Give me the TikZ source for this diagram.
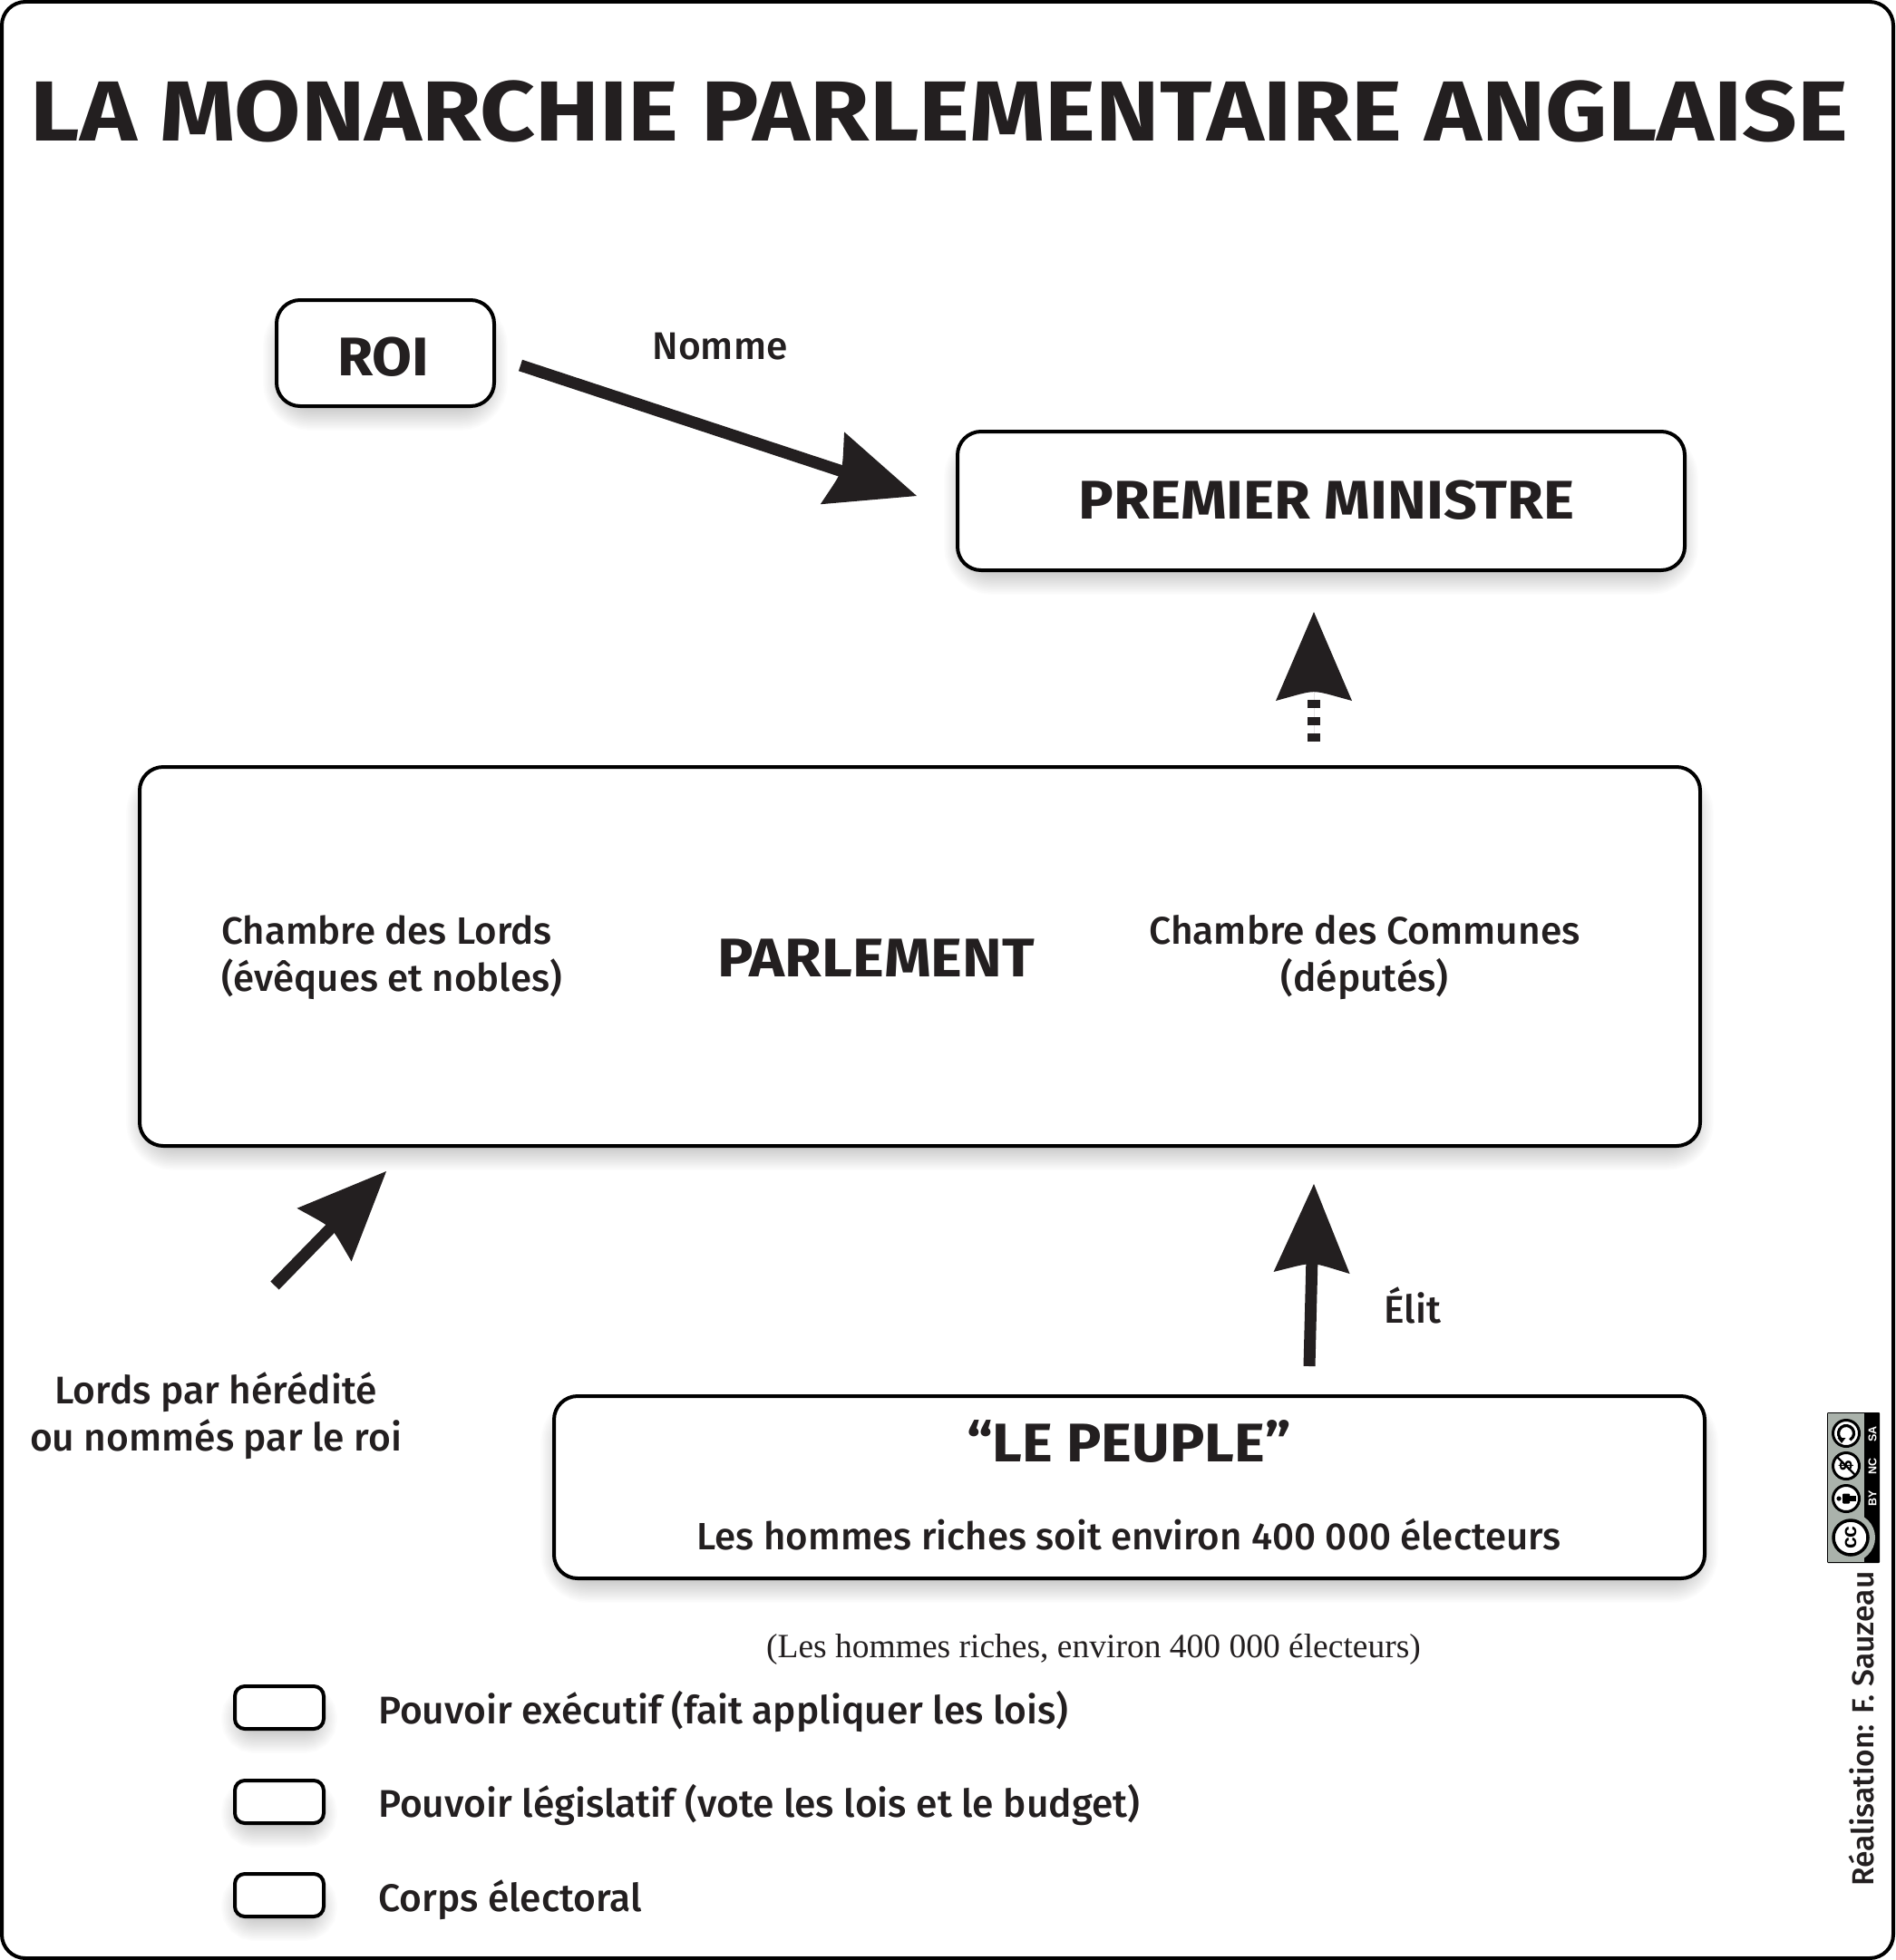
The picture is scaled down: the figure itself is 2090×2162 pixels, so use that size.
\documentclass[tikz,border=0pt]{standalone}
\usepackage{fontspec}
\setmainfont{Fira Sans}
\newfontfamily\medfont{Fira Sans Medium}
\newfontfamily\serfont{Liberation Serif}
\newfontfamily\ccfont{Liberation Sans}
\usetikzlibrary{arrows.meta,positioning,calc,backgrounds}
\definecolor{ink}{HTML}{231F20}
\definecolor{ccgrey}{HTML}{AAB2AB}
\makeatletter
\pgfdeclarearrow{
  name=CurvedHead,
  parameters={\the\pgfarrowlength,\the\pgfarrowwidth},
  setup code={
    \pgfarrowssettipend{0pt}
    \pgfarrowssetlineend{-80pt}
    \pgfarrowssetvisualbackend{-90pt}
    \pgfarrowssetbackend{-\pgfarrowlength}
    \pgfarrowssavethe\pgfarrowlength
    \pgfarrowssavethe\pgfarrowwidth
  },
  drawing code={
    \pgfpathmoveto{\pgfqpoint{0pt}{0pt}}
    \pgfpathlineto{\pgfqpoint{-\pgfarrowlength}{.5\pgfarrowwidth}}
    \pgfpathcurveto{\pgfqpoint{-.93\pgfarrowlength}{.2\pgfarrowwidth}}{\pgfqpoint{-.9\pgfarrowlength}{.1\pgfarrowwidth}}{\pgfqpoint{-.9\pgfarrowlength}{0pt}}
    \pgfpathcurveto{\pgfqpoint{-.9\pgfarrowlength}{-.1\pgfarrowwidth}}{\pgfqpoint{-.93\pgfarrowlength}{-.2\pgfarrowwidth}}{\pgfqpoint{-\pgfarrowlength}{-.5\pgfarrowwidth}}
    \pgfpathclose
    \pgfusepathqfill
  },
  defaults={length=98pt,width=84pt}
}
\makeatother
\newcommand{\softbox}[2]{%
  \foreach \w in {3,6,...,54}{%
    \draw[black,draw opacity=.0137,line width=\w pt,rounded corners=#2]
      ($(#1.south west)+(12,0)$) rectangle ($(#1.north east)+(-12,25)$);
  }%
}
\tikzset{
  powerbox/.style={draw=black,fill=white,line width=4pt,rounded corners=26pt,inner sep=0pt,outer sep=0pt,anchor=north west},
  keybox/.style={powerbox,rounded corners=11pt,minimum width=98pt,minimum height=47pt},
  bold title/.style={text=ink,font=\fontsize{94}{100}\selectfont\bfseries,anchor=base,inner sep=0pt},
  boxhead/.style={text=ink,font=\fontsize{60}{66}\selectfont\bfseries,anchor=base,inner sep=0pt},
  bodytext/.style={text=ink,font=\fontsize{42.5}{52}\selectfont\medfont,inner sep=0pt},
  bodysmall/.style={bodytext,font=\fontsize{42}{52}\selectfont\medfont},
  bigarrow/.style={draw=ink,fill=ink,line width=13pt,-{CurvedHead[length=98pt,width=84pt]}},
  ccring/.style={draw=black,fill=white,line width=3pt,circle,inner sep=0pt,outer sep=0pt},
  cclabel/.style={text=white,font=\fontsize{12.5}{13}\selectfont\ccfont\bfseries,rotate=90,inner sep=0pt}
}
\begin{document}
\begin{tikzpicture}[x=1pt,y=-1pt]
\useasboundingbox (0,0) rectangle (2090,2162);
\draw[black,line width=4pt,rounded corners=26pt] (2,2) rectangle (2088,2160);

\node[bold title] (title) at (1036,156) {\scalebox{1.13}[1]{LA MONARCHIE PARLEMENTAIRE ANGLAISE}};

% boxes
\node[powerbox,minimum width=240pt,minimum height=117pt] (roi) at (305,331) {};
\node[powerbox,minimum width=802pt,minimum height=153pt] (pm) at (1056,476) {};
\node[powerbox,minimum width=1721pt,minimum height=418pt] (parl) at (154,846) {};
\node[powerbox,minimum width=1269pt,minimum height=201pt] (peuple) at (611,1540) {};

\node[boxhead] (roit) at (423,414) {\scalebox{1.06}[1]{ROI}};
\node[boxhead] (pmt) at (1463,572) {\scalebox{1.076}[1]{PREMIER MINISTRE}};
\node[boxhead] (parlt) at (966,1077) {\scalebox{1.10}[1]{PARLEMENT}};
\node[boxhead] (peuplet) at (1245,1612) {\scalebox{1.066}[1]{“LE PEUPLE”}};
\node[bodysmall,anchor=base] (peuples) at (1245,1709) {Les hommes riches soit environ 400 000 électeurs};

\node[bodysmall,align=left,anchor=west] (lords) at (244,1056) {Chambre des Lords\\(évêques et nobles)};
\node[bodytext,align=center] (communes) at (1505,1056) {Chambre des Communes\\(députés)};
\node[bodytext,align=center] (lordsh) at (238,1562) {Lords par hérédité\\ou nommés par le roi};
\node[bodytext,anchor=base] (nomme) at (794,396) {Nomme};
\node[bodytext,anchor=base] (elit) at (1558,1459) {Élit};

\node[text=ink,font=\fontsize{37.5}{40}\selectfont\serfont,anchor=base,inner sep=0pt] (serif) at (1206,1828) {(Les hommes riches, environ 400 000 électeurs)};

% arrows
\coordinate (a1s) at (574,403); \coordinate (a1e) at (1011,547);
\coordinate (a2s) at (1449,818); \coordinate (a2e) at (1449,675);
\coordinate (a3s) at (303,1418); \coordinate (a3e) at (426,1292);
\coordinate (a4s) at (1444,1507); \coordinate (a4e) at (1449,1306);
\draw[bigarrow] (a1s) -- (a1e);
\draw[bigarrow,line width=14pt,dash pattern=on 9pt off 9.5pt] (a2s) -- (a2e);
\draw[bigarrow] (a3s) -- (a3e);
\draw[bigarrow] (a4s) -- (a4e);

% legend
\node[keybox] (k1) at (259,1860) {};
\node[keybox] (k2) at (259,1964) {};
\node[keybox] (k3) at (259,2067) {};
\node[bodytext,anchor=base west] (k1t) at (417,1901) {Pouvoir exécutif (fait appliquer les lois)};
\node[bodytext,anchor=base west] (k2t) at (417,2004) {Pouvoir législatif (vote les lois et le budget)};
\node[bodytext,anchor=base west] (k3t) at (417,2108) {Corps électoral};

% credit
\node[bodytext,font=\fontsize{33.6}{40}\selectfont\medfont,anchor=base west,rotate=90] (credit) at (2066,2081) {Réalisation: F. Sauzeau};

% CC badge
\fill[black,rounded corners=1pt] (2015,1558) rectangle (2073,1724);
\begin{scope}
\clip (2016,1559) rectangle (2073,1723);
\fill[ccgrey] (2016,1559) rectangle (2056,1723);
\fill[ccgrey] (2041,1696) circle[radius=27];
\end{scope}
\node[ccring,line width=3.5pt,minimum size=38pt,font=\fontsize{23}{23}\selectfont\ccfont\bfseries,text=black] (cc) at (2041,1696) {\rotatebox{90}{cc}};
\node[ccring,minimum size=29pt] (by) at (2036,1653) {};
\node[ccring,minimum size=29pt] (nc) at (2036,1617) {};
\node[ccring,minimum size=29pt] (sa) at (2036,1581) {};
% person
\fill[black] (2028,1653) circle[radius=2.6];
\fill[black,rounded corners=1pt] (2032,1647.5) rectangle (2040,1658.5);
\fill[black] (2040,1650) rectangle (2047,1656);
% no-commercial
\draw[black,line width=2.4pt] (2025,1606) -- (2047,1628);
\node[font=\fontsize{20}{20}\selectfont\ccfont\bfseries,text=black,rotate=90,inner sep=0pt] (ncs) at (2036,1617) {\$};
% share alike
\draw[black,line width=3.2pt] (2036,1581) ++(120:8.5) arc[start angle=120,end angle=420,radius=8.5];
\fill[black] (2026.5,1586) -- (2035.5,1586) -- (2031,1592) -- cycle;
\node[cclabel] (bylab) at (2065,1653) {BY};
\node[cclabel] (nclab) at (2065,1617) {NC};
\node[cclabel] (salab) at (2065,1582) {SA};

% soft shadows and white page, behind everything
\begin{scope}[on background layer]
\fill[white] (0,0) rectangle (2090,2162);
\softbox{roi}{26pt}
\softbox{pm}{26pt}
\softbox{parl}{26pt}
\softbox{peuple}{26pt}
\softbox{k1}{10pt}
\softbox{k2}{10pt}
\softbox{k3}{10pt}
\end{scope}
\end{tikzpicture}
\end{document}
